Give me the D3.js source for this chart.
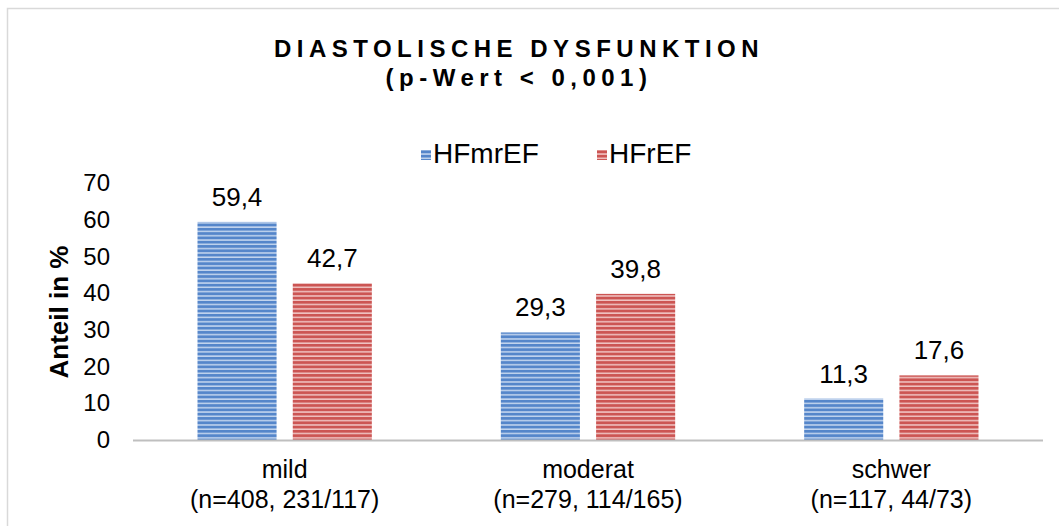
<!DOCTYPE html>
<html>
<head>
<meta charset="utf-8">
<script src="https://cdn.jsdelivr.net/npm/d3@7"></script>
<style>
  body { margin: 0; background: #fff; }
  text { font-family: "Liberation Sans", Arial, sans-serif; fill: #000; }
</style>
</head>
<body>
<script>
const w = 1059;
const h = 526;

// data
const categories = ["mild", "moderat", "schwer"];
const subLabels = ["(n=408, 231/117)", "(n=279, 114/165)", "(n=117, 44/73)"];
const seriesNames = ["HFmrEF", "HFrEF"];
const hfmrefValues = [59.4, 29.3, 11.3];
const hfrefValues = [42.7, 39.8, 17.6];
const yTicks = [0, 10, 20, 30, 40, 50, 60, 70];

const svg = d3.select("body").append("svg").attr("width", w).attr("height", h);

// striped fills
const defs = svg.append("defs");
function stripes(id, dark, light) {
  const p = defs.append("pattern")
    .attr("id", id)
    .attr("patternUnits", "userSpaceOnUse")
    .attr("width", 8).attr("height", 4.3);
  p.append("rect").attr("width", 8).attr("height", 4.3).attr("fill", dark);
  p.append("rect").attr("y", 2.8).attr("width", 8).attr("height", 1.5).attr("fill", light);
}
stripes("blueStripe", "#5586ca", "#c3d5ee");
stripes("redStripe", "#cc5553", "#f0c4c3");
const fills = ["url(#blueStripe)", "url(#redStripe)"];

// outer frame
svg.append("path")
  .attr("d", "M7.5," + h + " V8.5 H" + w)
  .attr("fill", "none")
  .attr("stroke", "#d9d9d9")
  .attr("stroke-width", 1.5);

const x0 = d3.scaleBand().domain(categories).range([133, 1043]).paddingInner(0).paddingOuter(0);
const x1 = d3.scaleBand().domain(seriesNames).range([64.5, x0.bandwidth() - 64.5]).paddingInner(0.17);
const y = d3.scaleLinear().domain([0, 70]).range([440, 183]);

const rows = categories.map((c, i) => ({ cat: c, vals: [hfmrefValues[i], hfrefValues[i]] }));

const groups = svg.selectAll("g.grp")
  .data(rows)
  .enter()
  .append("g")
  .attr("class", "grp")
  .attr("transform", d => "translate(" + x0(d.cat) + ",0)");

groups.selectAll("rect")
  .data(d => d.vals.map((v, j) => ({ name: seriesNames[j], v: v, j: j })))
  .enter()
  .append("rect")
  .attr("x", d => x1(d.name))
  .attr("y", d => y(d.v))
  .attr("width", x1.bandwidth())
  .attr("height", d => y(0) - y(d.v))
  .attr("fill", d => fills[d.j]);

groups.selectAll("text.val")
  .data(d => d.vals.map((v, j) => ({ name: seriesNames[j], v: v })))
  .enter()
  .append("text")
  .attr("class", "val")
  .attr("x", d => x1(d.name) + x1.bandwidth() / 2)
  .attr("y", d => y(d.v) - 16)
  .attr("text-anchor", "middle")
  .style("font-size", "26px")
  .text(d => d3.format(".1f")(d.v).replace(".", ","));

// x axis line
svg.append("line")
  .attr("x1", 133).attr("x2", 1043)
  .attr("y1", y(0) + 0.5).attr("y2", y(0) + 0.5)
  .attr("stroke", "#bfbfbf").attr("stroke-width", 2);

// category labels
categories.forEach((c, i) => {
  const cx = x0(c) + x0.bandwidth() / 2;
  svg.append("text").attr("x", cx).attr("y", 478).attr("text-anchor", "middle")
    .style("font-size", "25px").text(c);
  svg.append("text").attr("x", cx).attr("y", 508).attr("text-anchor", "middle")
    .style("font-size", "25px").text(subLabels[i]);
});

// y axis (labels only)
const yAxis = d3.axisLeft(y).tickValues(yTicks).tickSize(0).tickPadding(0);
const ya = svg.append("g").attr("transform", "translate(110,0)").call(yAxis);
ya.select(".domain").remove();
ya.selectAll("text")
  .style("font-size", "24px")
  .style("font-family", "'Liberation Sans', Arial, sans-serif")
  .attr("fill", "#000");

// y axis title
svg.append("text")
  .attr("transform", "translate(68,312) rotate(-90)")
  .attr("text-anchor", "middle")
  .style("font-size", "26px")
  .style("font-weight", "bold")
  .text("Anteil in %");

// title
svg.append("text")
  .attr("x", 519).attr("y", 57)
  .attr("text-anchor", "middle")
  .style("font-size", "24px")
  .style("font-weight", "bold")
  .style("letter-spacing", "5.5px")
  .text("DIASTOLISCHE DYSFUNKTION");
svg.append("text")
  .attr("x", 519).attr("y", 86)
  .attr("text-anchor", "middle")
  .style("font-size", "24px")
  .style("font-weight", "bold")
  .style("letter-spacing", "5.5px")
  .text("(p-Wert < 0,001)");

// legend
const legendX = [421, 597];
seriesNames.forEach((s, i) => {
  svg.append("rect").attr("x", legendX[i]).attr("y", 150).attr("width", 10).attr("height", 10)
    .attr("fill", fills[i]);
  svg.append("text").attr("x", legendX[i] + 12).attr("y", 163)
    .style("font-size", "28px").text(s);
});
</script>
</body>
</html>
